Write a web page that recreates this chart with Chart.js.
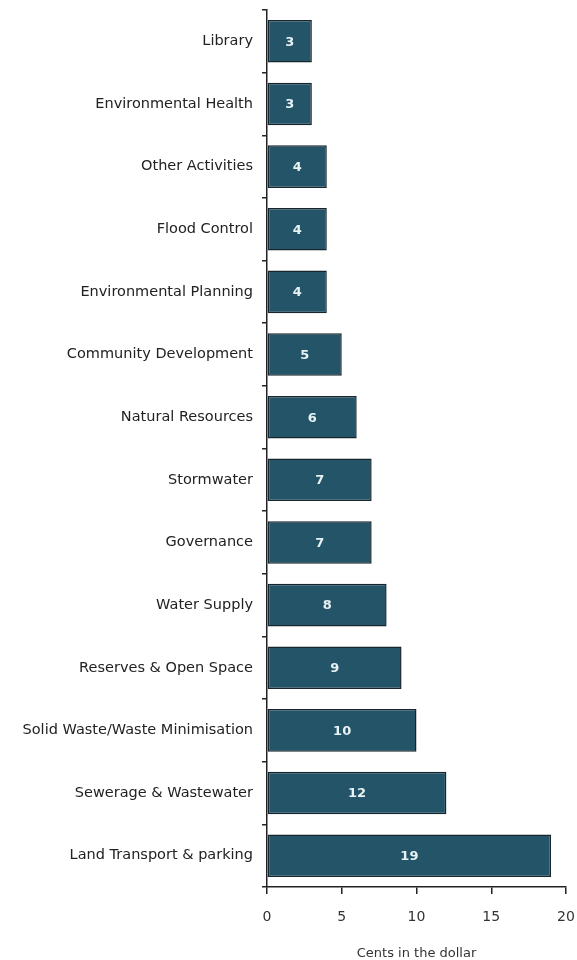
<!DOCTYPE html>
<html lang="en">
<head>
  <meta charset="UTF-8">
  <title>Cents in the dollar</title>
  <script src="https://cdn.jsdelivr.net/npm/chart.js"></script>
  <style>
    html, body { margin: 0; padding: 0; background: #fff; }
    #wrap { width: 577px; height: 960px; position: relative; }
  </style>
</head>
<body>
  <div id="wrap"><canvas id="spendChart"></canvas></div>

  <script>
    const categories = [
      "Library", "Environmental Health", "Other Activities", "Flood Control",
      "Environmental Planning", "Community Development", "Natural Resources",
      "Stormwater", "Governance", "Water Supply", "Reserves & Open Space",
      "Solid Waste/Waste Minimisation", "Sewerage & Wastewater", "Land Transport & parking"
    ];
    const cents = [3, 3, 4, 4, 4, 5, 6, 7, 7, 8, 9, 10, 12, 19];
    const xTicks = [0, 5, 10, 15, 20];

    const fontFamily = "'DejaVu Sans', Verdana, sans-serif";

    // write the value in the middle of each bar
    const barValues = {
      id: 'barValues',
      afterDatasetsDraw(chart) {
        const ctx = chart.ctx;
        const meta = chart.getDatasetMeta(0);
        ctx.save();
        ctx.font = "bold 13px " + fontFamily;
        ctx.fillStyle = '#e8f1f3';
        ctx.textAlign = 'center';
        ctx.textBaseline = 'middle';
        meta.data.forEach((bar, i) => {
          ctx.fillText(cents[i], (bar.x + bar.base) / 2, bar.y + 1);
        });
        ctx.restore();
      }
    };

    new Chart(document.getElementById('spendChart'), {
      type: 'bar',
      data: {
        labels: categories,
        datasets: [{
          data: cents,
          backgroundColor: '#235468',
          borderColor: '#17262e',
          borderWidth: 1.5,
          borderSkipped: false,
          barPercentage: 0.68,
          categoryPercentage: 1
        }]
      },
      options: {
        indexAxis: 'y',
        responsive: true,
        maintainAspectRatio: false,
        animation: false,
        layout: { padding: { top: 10, right: 11 } },
        plugins: { legend: { display: false }, tooltip: { enabled: false } },
        scales: {
          x: {
            min: 0, max: 20,
            afterBuildTicks(scale) { scale.ticks = xTicks.map(v => ({ value: v })); },
            afterFit(scale) {
              scale.height = 73;
              scale.paddingLeft = 0;
              scale.paddingRight = 0;
            },
            border: { color: '#222', width: 1.5 },
            grid: { drawOnChartArea: false, tickLength: 7, color: '#222', lineWidth: 1.5 },
            ticks: { color: '#333', font: { family: fontFamily, size: 14 }, padding: 15 },
            title: {
              display: true, text: 'Cents in the dollar', color: '#333',
              font: { family: fontFamily, size: 13 }, padding: { top: 0, bottom: -1 }
            }
          },
          y: {
            afterFit(scale) {
              scale.width = 267;
              scale.paddingTop = 0;
              scale.paddingBottom = 0;
            },
            border: { color: '#222', width: 1.5 },
            grid: { offset: true, drawOnChartArea: false, tickLength: 5, color: '#222', lineWidth: 1.5 },
            ticks: { color: '#222', font: { family: fontFamily, size: 14.5 }, padding: 9 }
          }
        }
      },
      plugins: [barValues]
    });
  </script>
</body>
</html>
